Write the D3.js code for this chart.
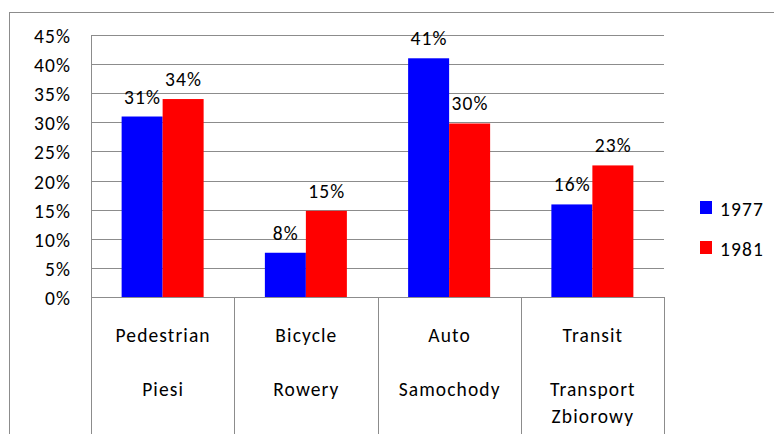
<!DOCTYPE html>
<html>
<head>
<meta charset="utf-8">
<script src="https://cdn.jsdelivr.net/npm/d3@7"></script>
<style>
  body { margin: 0; background: #fff; }
  text { font-family: Carlito, "Liberation Sans", Arial, sans-serif; font-size: 19.5px; letter-spacing: 1.1px; fill: #000; }
</style>
</head>
<body>
<svg id="chart" width="774" height="434"></svg>
<script>
// data
var categories = ["Pedestrian", "Bicycle", "Auto", "Transit"];
// category labels as lines (blank line between English and Polish)
var categoryLines = [
  ["Pedestrian", "", "Piesi"],
  ["Bicycle", "", "Rowery"],
  ["Auto", "", "Samochody"],
  ["Transit", "", "Transport", "Zbiorowy"]
];
var years = ["1977", "1981"];
var values1977 = [31, 7.6, 41, 15.9];
var values1981 = [34, 14.8, 29.8, 22.6];
var yTicks = [0, 5, 10, 15, 20, 25, 30, 35, 40, 45];
var colors = ["#0000ff", "#ff0000"];

var svg = d3.select("#chart");

// outer frame (runs off right/bottom of picture)
svg.append("rect")
  .attr("x", 9.5).attr("y", 12.5)
  .attr("width", 900).attr("height", 600)
  .attr("fill", "none")
  .attr("stroke", "#8c8c8c");

var plotLeft = 91, plotRight = 664, plotTop = 35, plotBottom = 297;

var y = d3.scaleLinear().domain([0, 45]).range([plotBottom, plotTop]);
var x0 = d3.scaleBand().domain(categories).range([plotLeft, plotRight]);
var x1 = d3.scaleBand().domain(years).range([0, x0.bandwidth()]).paddingOuter(0.747);

// gridlines
svg.append("g").selectAll("line")
  .data(yTicks)
  .join("line")
    .attr("x1", plotLeft).attr("x2", plotRight)
    .attr("y1", function(d) { return Math.round(y(d)) + 0.5; })
    .attr("y2", function(d) { return Math.round(y(d)) + 0.5; })
    .attr("stroke", "#8c8c8c");

// y axis line
svg.append("line")
  .attr("x1", plotLeft + 0.5).attr("x2", plotLeft + 0.5)
  .attr("y1", plotTop).attr("y2", plotBottom)
  .attr("stroke", "#8c8c8c");

// y tick labels
svg.append("g").selectAll("text")
  .data(yTicks)
  .join("text")
    .attr("x", 71)
    .attr("y", function(d) { return y(d) + 1; })
    .attr("text-anchor", "end")
    .attr("dominant-baseline", "central")
    .text(function(d) { return d + "%"; });

// bars
var series = years.map(function(yr, i) {
  return { year: yr, color: colors[i], values: i === 0 ? values1977 : values1981 };
});

var groups = svg.append("g").selectAll("g")
  .data(categories)
  .join("g")
    .attr("transform", function(d) { return "translate(" + x0(d) + ",0)"; });

groups.selectAll("rect")
  .data(function(c, ci) { return series.map(function(s) { return { year: s.year, color: s.color, value: s.values[ci] }; }); })
  .join("rect")
    .attr("x", function(d) { return x1(d.year); })
    .attr("width", x1.bandwidth())
    .attr("y", function(d) { return y(d.value); })
    .attr("height", function(d) { return y(0) - y(d.value); })
    .attr("fill", function(d) { return d.color; });

// data labels
groups.selectAll("text")
  .data(function(c, ci) { return series.map(function(s) { return { year: s.year, value: s.values[ci] }; }); })
  .join("text")
    .attr("x", function(d) { return x1(d.year) + x1.bandwidth() / 2 + 0.5; })
    .attr("y", function(d) { return y(d.value) - 13; })
    .attr("text-anchor", "middle")
    .text(function(d) { return Math.round(d.value) + "%"; });

// category axis: baseline and dividers
svg.append("line")
  .attr("x1", plotLeft).attr("x2", plotRight)
  .attr("y1", plotBottom + 0.5).attr("y2", plotBottom + 0.5)
  .attr("stroke", "#8c8c8c");

var dividers = categories.map(function(c) { return x0(c); }).concat([plotRight]);
svg.append("g").selectAll("line")
  .data(dividers)
  .join("line")
    .attr("x1", function(d) { return Math.round(d) + 0.5; })
    .attr("x2", function(d) { return Math.round(d) + 0.5; })
    .attr("y1", plotBottom).attr("y2", 434)
    .attr("stroke", "#8c8c8c");

// category labels
var catLabels = svg.append("g").selectAll("text")
  .data(categories)
  .join("text")
    .attr("text-anchor", "middle")
    .attr("x", function(d) { return x0(d) + x0.bandwidth() / 2; });

catLabels.each(function(d, i) {
  var t = d3.select(this);
  categoryLines[i].forEach(function(line, j) {
    if (!line) return;
    t.append("tspan")
      .attr("x", x0(d) + x0.bandwidth() / 2 + 0.5)
      .attr("y", 335 + j * 27)
      .attr("dominant-baseline", "central")
      .text(line);
  });
});

// legend
var legend = svg.append("g").selectAll("g")
  .data(series)
  .join("g")
    .attr("transform", function(d, i) { return "translate(700," + (201 + i * 40) + ")"; });

legend.append("rect")
  .attr("width", 12).attr("height", 13)
  .attr("fill", function(d) { return d.color; });

legend.append("text")
  .attr("x", 20).attr("y", 8)
  .attr("dominant-baseline", "central")
  .text(function(d) { return d.year; });
</script>
</body>
</html>
